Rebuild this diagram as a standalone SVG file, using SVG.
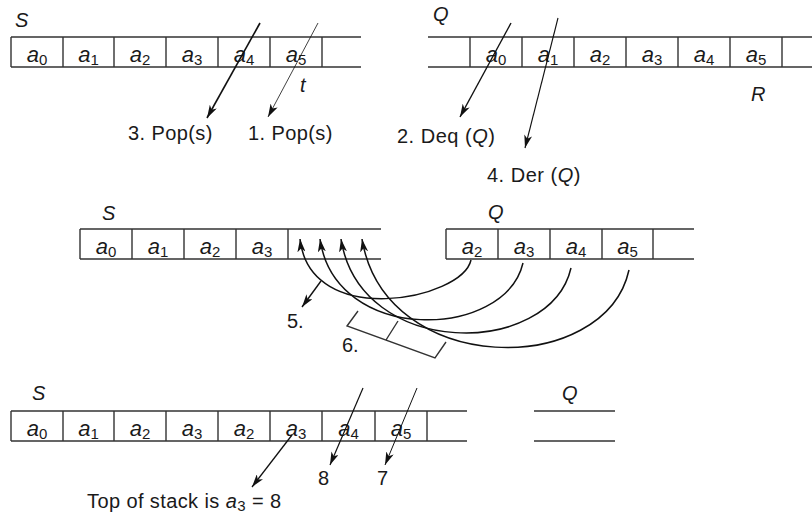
<svg xmlns="http://www.w3.org/2000/svg" width="812" height="517" viewBox="0 0 812 517">
<style>
text{font-family:"Liberation Sans",Arial,sans-serif;fill:#1a1a1a;font-size:20px}
.lbl{font-style:italic;font-size:20px}
.cell{font-size:22px;text-anchor:middle}
.cell tspan.a{font-style:italic}
.cell tspan.s{font-size:15px}
.it{font-style:italic}
.ln{stroke:#333;stroke-width:1.4;fill:none}
.ar{stroke:#111;fill:none;marker-end:url(#ah)}
.cv{stroke:#111;stroke-width:1.5;fill:none;marker-end:url(#ah)}
</style>
<defs>
<marker id="ah" markerUnits="userSpaceOnUse" markerWidth="14" markerHeight="8" refX="13" refY="4" orient="auto">
<path d="M0,0 L13,4 L0,8 L3.5,4 z" fill="#111"/>
</marker>
</defs>
<rect width="812" height="517" fill="#fff"/>

<g id="stack-top">
<text class="lbl" x="15" y="27">S</text>
<path class="ln" d="M11,37 H361 M11,67 H361 M11,37 V67 M63,37 V67 M114,37 V67 M166,37 V67 M218,37 V67 M270,37 V67 M322,37 V67"/>
<text class="cell" x="37" y="62"><tspan class="a">a</tspan><tspan class="s" dy="3">0</tspan></text>
<text class="cell" x="88.5" y="62"><tspan class="a">a</tspan><tspan class="s" dy="3">1</tspan></text>
<text class="cell" x="140" y="62"><tspan class="a">a</tspan><tspan class="s" dy="3">2</tspan></text>
<text class="cell" x="192" y="62"><tspan class="a">a</tspan><tspan class="s" dy="3">3</tspan></text>
<text class="cell" x="244" y="62"><tspan class="a">a</tspan><tspan class="s" dy="3">4</tspan></text>
<text class="cell" x="296" y="62"><tspan class="a">a</tspan><tspan class="s" dy="3">5</tspan></text>
<text class="it" x="300" y="92" font-size="20">t</text>
</g>

<g id="queue-top">
<text class="lbl" x="433" y="21">Q</text>
<path class="ln" d="M428,37 H812 M428,67 H812 M470,37 V67 M522,37 V67 M574,37 V67 M626,37 V67 M678,37 V67 M730,37 V67 M782,37 V67"/>
<text class="cell" x="496" y="62"><tspan class="a">a</tspan><tspan class="s" dy="3">0</tspan></text>
<text class="cell" x="548" y="62"><tspan class="a">a</tspan><tspan class="s" dy="3">1</tspan></text>
<text class="cell" x="600" y="62"><tspan class="a">a</tspan><tspan class="s" dy="3">2</tspan></text>
<text class="cell" x="652" y="62"><tspan class="a">a</tspan><tspan class="s" dy="3">3</tspan></text>
<text class="cell" x="704" y="62"><tspan class="a">a</tspan><tspan class="s" dy="3">4</tspan></text>
<text class="cell" x="756" y="62"><tspan class="a">a</tspan><tspan class="s" dy="3">5</tspan></text>
<text class="lbl" x="751" y="101">R</text>
</g>

<g id="labels-top">
<text x="128" y="140" letter-spacing="0.4">3. Pop(s)</text>
<text x="248" y="140" letter-spacing="0.4">1. Pop(s)</text>
<text x="397" y="143" letter-spacing="0.5">2. Deq (<tspan class="it">Q</tspan>)</text>
<text x="487" y="182" letter-spacing="0.5">4. Der (<tspan class="it">Q</tspan>)</text>
</g>

<g id="stack-mid">
<text class="lbl" x="102" y="220">S</text>
<path class="ln" d="M80,229 H381 M80,259 H381 M80,229 V259 M132,229 V259 M184,229 V259 M236,229 V259 M288,229 V259"/>
<text class="cell" x="106" y="254"><tspan class="a">a</tspan><tspan class="s" dy="3">0</tspan></text>
<text class="cell" x="158" y="254"><tspan class="a">a</tspan><tspan class="s" dy="3">1</tspan></text>
<text class="cell" x="210" y="254"><tspan class="a">a</tspan><tspan class="s" dy="3">2</tspan></text>
<text class="cell" x="262" y="254"><tspan class="a">a</tspan><tspan class="s" dy="3">3</tspan></text>
</g>

<g id="queue-mid">
<text class="lbl" x="488" y="219">Q</text>
<path class="ln" d="M446,229 H694 M446,259 H694 M446,229 V259 M498,229 V259 M550,229 V259 M602,229 V259 M653,229 V259"/>
<text class="cell" x="472" y="254"><tspan class="a">a</tspan><tspan class="s" dy="3">2</tspan></text>
<text class="cell" x="524" y="254"><tspan class="a">a</tspan><tspan class="s" dy="3">3</tspan></text>
<text class="cell" x="576" y="254"><tspan class="a">a</tspan><tspan class="s" dy="3">4</tspan></text>
<text class="cell" x="627.5" y="254"><tspan class="a">a</tspan><tspan class="s" dy="3">5</tspan></text>
</g>

<g id="bracket-6">
<path class="ln" d="M358,311 L347,326 L435,358 L446,342 M386,340 L398,321" stroke-width="1.1"/>
<text x="287" y="328">5.</text>
<text x="342" y="352">6.</text>
</g>

<g id="stack-bottom">
<text class="lbl" x="32" y="400">S</text>
<path class="ln" d="M11,411 H467 M11,441 H467 M11,411 V441 M63,411 V441 M114,411 V441 M166,411 V441 M218,411 V441 M270,411 V441 M322,411 V441 M375,411 V441 M427,411 V441"/>
<text class="cell" x="37" y="436"><tspan class="a">a</tspan><tspan class="s" dy="3">0</tspan></text>
<text class="cell" x="88.5" y="436"><tspan class="a">a</tspan><tspan class="s" dy="3">1</tspan></text>
<text class="cell" x="140" y="436"><tspan class="a">a</tspan><tspan class="s" dy="3">2</tspan></text>
<text class="cell" x="192" y="436"><tspan class="a">a</tspan><tspan class="s" dy="3">3</tspan></text>
<text class="cell" x="244" y="436"><tspan class="a">a</tspan><tspan class="s" dy="3">2</tspan></text>
<text class="cell" x="296" y="436"><tspan class="a">a</tspan><tspan class="s" dy="3">3</tspan></text>
<text class="cell" x="348.5" y="436"><tspan class="a">a</tspan><tspan class="s" dy="3">4</tspan></text>
<text class="cell" x="401" y="436"><tspan class="a">a</tspan><tspan class="s" dy="3">5</tspan></text>
<text x="318" y="485">8</text>
<text x="377" y="485">7</text>
<text x="87" y="508" letter-spacing="0.4">Top of stack is <tspan class="it">a</tspan><tspan font-size="15" dy="3">3</tspan><tspan dy="-3"> = 8</tspan></text>
</g>

<g id="queue-bottom">
<text class="lbl" x="562" y="400">Q</text>
<path class="ln" d="M534,411 H615 M534,441 H615"/>
</g>

<g id="connectors">
<line class="ar" x1="260" y1="23" x2="207" y2="118" stroke-width="1.6"/>
<line class="ar" x1="318" y1="23" x2="268" y2="117" stroke-width="0.8"/>
<line class="ar" x1="511" y1="23" x2="460" y2="117" stroke-width="1.4"/>
<line class="ar" x1="558" y1="18" x2="525" y2="148" stroke-width="1.1"/>
<path class="cv" d="M471,260 C462,300 310,330 300,239"/>
<path class="cv" d="M523,263 C505,340 335,345 320,239"/>
<path class="cv" d="M571,268 C550,358 360,360 341,239"/>
<path class="cv" d="M629,270 C605,378 385,378 362,239"/>
<line class="ar" x1="321" y1="281" x2="302" y2="307" stroke-width="1.4"/>
<line class="ar" x1="363" y1="388" x2="330" y2="465" stroke-width="1.2"/>
<line class="ar" x1="417" y1="388" x2="385" y2="465" stroke-width="1"/>
<line class="ar" x1="292" y1="435" x2="252" y2="487" stroke-width="1.3"/>
</g>
</svg>
